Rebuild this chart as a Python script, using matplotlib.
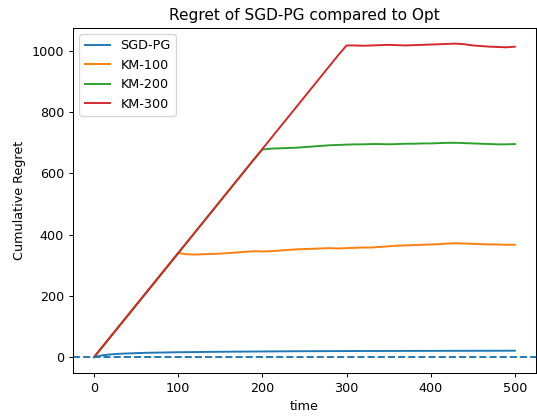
import matplotlib.pyplot as plt
import numpy as np

# time axis sampled every 10 steps
t = np.arange(0, 501, 10)

sgd_pg = [0, 6, 9, 11, 12, 13, 14, 14.5, 15, 15.5, 16,
          16.3, 16.6, 16.9, 17.2, 17.5, 17.7, 17.9, 18.1, 18.3, 18.5,
          18.7, 18.9, 19.0, 19.2, 19.3, 19.4, 19.5, 19.6, 19.7, 19.8,
          19.9, 20.0, 20.0, 20.1, 20.2, 20.2, 20.3, 20.3, 20.4, 20.4,
          20.5, 20.5, 20.6, 20.6, 20.7, 20.7, 20.8, 20.8, 20.9, 21.0]

km100 = [0, 34, 68, 102, 136, 170, 204, 238, 272, 306, 340,
         336, 335, 336, 337, 338, 340, 342, 344, 346, 345,
         346, 348, 350, 352, 353, 354, 355, 356, 355, 356,
         357, 358, 358, 360, 362, 364, 365, 366, 367, 368,
         369, 371, 372, 371, 370, 369, 368, 368, 367, 367]

km200 = [0, 34, 68, 102, 136, 170, 204, 238, 272, 306, 340,
         374, 408, 442, 476, 510, 544, 578, 612, 646, 678,
         681, 682, 683, 684, 686, 688, 690, 692, 693, 694,
         695, 695, 696, 696, 695, 696, 697, 697, 698, 698,
         699, 700, 700, 699, 698, 697, 696, 695, 695, 696]

km300 = [0, 34, 68, 102, 136, 170, 204, 238, 272, 306, 340,
         374, 408, 442, 476, 510, 544, 578, 612, 646, 680,
         714, 748, 782, 816, 850, 884, 918, 952, 986, 1018,
         1018, 1017, 1018, 1019, 1020, 1019, 1018, 1019, 1020, 1021,
         1022, 1023, 1024, 1022, 1018, 1016, 1014, 1013, 1012, 1014]

dpi = 92
fig = plt.figure(figsize=(537 / dpi, 417 / dpi), dpi=dpi)
ax = fig.add_axes([0.136, 0.106, 0.862, 0.827])

ax.plot(t, sgd_pg, label="SGD-PG")
ax.plot(t, km100, label="KM-100")
ax.plot(t, km200, label="KM-200")
ax.plot(t, km300, label="KM-300")
ax.axhline(0, linestyle="--", color="C0")

ax.set_title("Regret of SGD-PG compared to Opt")
ax.set_xlabel("time")
ax.set_ylabel("Cumulative Regret")
ax.legend(loc="upper left")

plt.savefig("out.png")
